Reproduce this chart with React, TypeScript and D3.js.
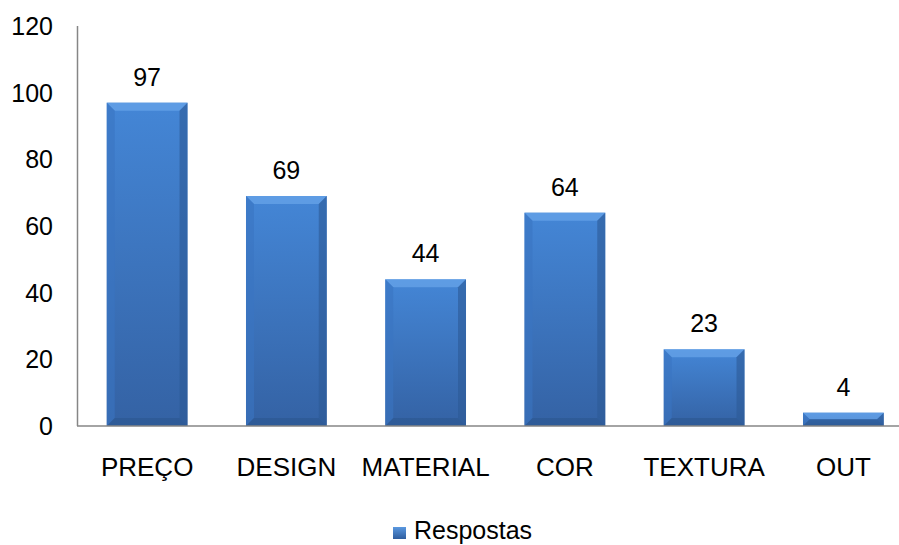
import React from "react";
import * as d3 from "d3";

const categories = ["PREÇO", "DESIGN", "MATERIAL", "COR", "TEXTURA", "OUT"];
const values = [97, 69, 44, 64, 23, 4];
const yTicks = [0, 20, 40, 60, 80, 100, 120];
const seriesName = "Respostas";

const W = 899;
const H = 545;
const FONT = "'Liberation Sans', Arial, sans-serif";

export default function App() {
  const x = d3.scaleBand<string>().domain(categories).range([77.5, 913]).paddingInner(0.42).paddingOuter(0.21);
  const y = d3.scaleLinear().domain([0, 120]).range([426, 26]);
  const bw = x.bandwidth();
  const bev = 8;

  return (
    <div style={{ position: "absolute", left: 0, top: 0 }}>
      <svg width={W} height={H} style={{ display: "block" }} fontFamily={FONT}>
        <defs>
          <linearGradient id="barFill" x1="0" y1="0" x2="0" y2="1">
            <stop offset="0" stopColor="#4486d6" />
            <stop offset="1" stopColor="#3462a4" />
          </linearGradient>
          <linearGradient id="legFill" x1="0" y1="0" x2="0" y2="1">
            <stop offset="0" stopColor="#5a98e0" />
            <stop offset="1" stopColor="#2f5d9e" />
          </linearGradient>
        </defs>
        <rect width={W} height={H} fill="#fff" />
        {categories.map((c, i) => {
          const x0 = x(c)!;
          const x1 = x0 + bw;
          const y0 = y(values[i]);
          const y1 = y(0);
          const h = y1 - y0;
          const b = Math.min(bev, h / 2);
          return (
            <g key={c}>
              <rect x={x0} y={y0} width={bw} height={h} fill="url(#barFill)" />
              <polygon points={`${x0},${y0} ${x1},${y0} ${x1 - b},${y0 + b} ${x0 + b},${y0 + b}`} fill="#6aa5ea" opacity={0.7} />
              <polygon points={`${x0},${y0} ${x0 + b},${y0 + b} ${x0 + b},${y1 - b} ${x0},${y1}`} fill="#3a74c2" opacity={0.6} />
              <polygon points={`${x1},${y0} ${x1 - b},${y0 + b} ${x1 - b},${y1 - b} ${x1},${y1}`} fill="#2d5a96" opacity={0.6} />
              <polygon points={`${x0},${y1} ${x0 + b},${y1 - b} ${x1 - b},${y1 - b} ${x1},${y1}`} fill="#2c5790" opacity={0.6} />
              <text x={x0 + bw / 2} y={y0 - 17} textAnchor="middle" fontSize={25} fill="#000">
                {values[i]}
              </text>
              <text x={x0 + bw / 2} y={476} textAnchor="middle" fontSize={26} fill="#000">
                {c}
              </text>
            </g>
          );
        })}
        <line x1={77.5} y1={26} x2={77.5} y2={426} stroke="#868686" strokeWidth={1.5} />
        <line x1={77} y1={426} x2={W} y2={426} stroke="#868686" strokeWidth={1.5} />
        {yTicks.map((t) => (
          <text key={t} x={53} y={y(t) + 9} textAnchor="end" fontSize={25} fill="#000">
            {t}
          </text>
        ))}
        <rect x={393} y={527} width={13} height={12} fill="url(#legFill)" />
        <text x={414} y={539} fontSize={25} fill="#000">
          {seriesName}
        </text>
      </svg>
    </div>
  );
}
